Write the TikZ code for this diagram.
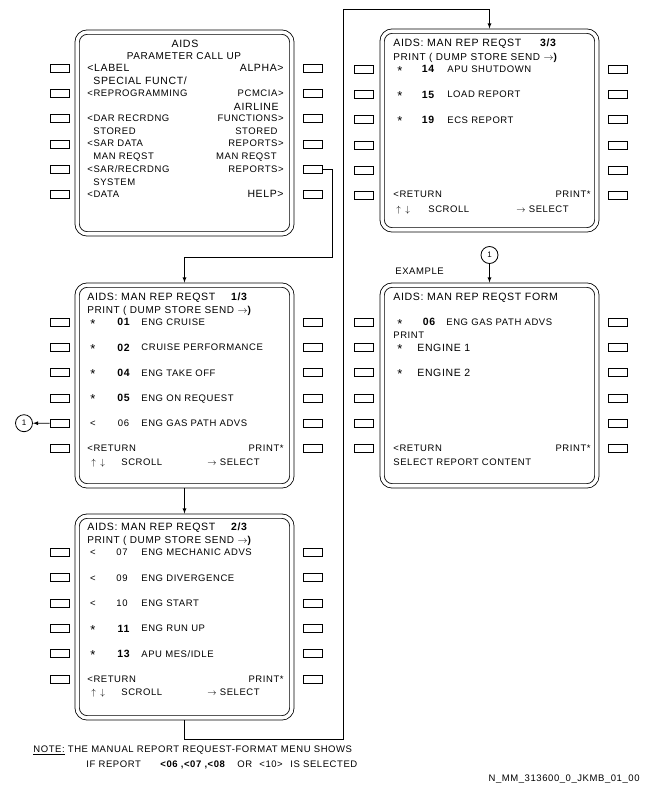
\documentclass[tikz,border=0pt]{standalone}
\usepackage{fontspec}
\setmainfont{Liberation Sans}
\newfontfamily\cdufont[LetterSpace=6]{Liberation Sans}

\tikzset{
  cdu/.style={draw,double,double distance=3.5pt,rounded corners=10pt,minimum width=214.7pt,inner sep=0pt},
  lsk/.style={draw,minimum width=19pt,minimum height=8pt,inner sep=0pt},
  txt/.style={font=\cdufont\fontsize{9.5}{11}\selectfont,inner sep=0pt,text height=6.8pt,text depth=0pt,anchor=west},
  txr/.style={txt,anchor=east},
  big/.style={txt,font=\cdufont\fontsize{10.5}{12}\selectfont,text height=7.5pt},
  bgr/.style={big,anchor=east},
  ttl/.style={txt,font=\cdufont\fontsize{10.6}{13}\selectfont,text height=7.6pt},
  prt/.style={txt,font=\cdufont\fontsize{10}{12}\selectfont,text height=7.2pt},
  num/.style={txt,anchor=center,font=\cdufont\bfseries\fontsize{10.5}{12}\selectfont,text height=7.5pt},
  nrm/.style={txt,anchor=center},
  mrk/.style={txt,anchor=center},
  ast/.style={txt,anchor=center,font=\cdufont\fontsize{13}{14}\selectfont,text height=6pt,yshift=-3pt},
  callout/.style={draw,circle,minimum size=17pt,inner sep=0pt,font=\cdufont\fontsize{8}{9}\selectfont},
  link/.style={->,shorten >=2.2pt}
}

\begin{document}
\begin{tikzpicture}[x=1pt,y=-1pt,>=latex,line width=0.8pt]
  \useasboundingbox (0,0) rectangle (648,792);

  % screens
  \node[cdu,minimum height=201.7pt] (p1) at (184.5,133) {};
  \node[cdu,minimum height=200.7pt] (p2) at (184.5,385.5) {};
  \node[cdu,minimum height=201.7pt] (p3) at (184.5,617) {};
  \node[cdu,minimum height=198.7pt] (p4) at (489.5,130.5) {};
  \node[cdu,minimum height=200.7pt] (p5) at (489.5,385.5) {};

  % line select keys
  \foreach \p/\xl/\xr/\yt in {p1/59.5/312.5/68,p2/59.5/312.5/322,p3/59.5/312.5/552.5,p4/364/617.5/69,p5/364/617.5/322}
    \foreach \i in {1,...,6}{
      \node[lsk] (\p l\i) at (\xl,{\yt+25.3*(\i-1)}) {};
      \node[lsk] (\p r\i) at (\xr,{\yt+25.3*(\i-1)}) {};
    }

  % parameter call up
  \node[ttl,anchor=center] (p1h) at (185,44) {AIDS};
  \node[prt,anchor=center] (p1s) at (184,56) {PARAMETER CALL UP};
  \node[big] (p1a) at (87,68) {<LABEL};
  \node[bgr] (p1b) at (284,68) {ALPHA>};
  \node[big] (p1c) at (93,81) {SPECIAL FUNCT/};
  \node[txt] (p1d) at (87,93) {<REPROGRAMMING};
  \node[txr] (p1e) at (284,93) {PCMCIA>};
  \node[bgr] (p1f) at (279,107) {AIRLINE};
  \node[txt] (p1g) at (87,118) {<DAR RECRDNG};
  \node[txr] (p1h2) at (284,118) {FUNCTIONS>};
  \node[txt] (p1i) at (93,131) {STORED};
  \node[txr] (p1j) at (278,131) {STORED};
  \node[txt] (p1k) at (87,143) {<SAR DATA};
  \node[txr] (p1l) at (284,143) {REPORTS>};
  \node[txt] (p1m) at (93,156) {MAN REQST};
  \node[txr] (p1n) at (277,156) {MAN REQST};
  \node[txt] (p1o) at (87,169) {<SAR/RECRDNG};
  \node[txr] (p1p) at (284,169) {REPORTS>};
  \node[txt] (p1q) at (93,182) {SYSTEM};
  \node[txt] (p1r) at (87,194) {<DATA};
  \node[bgr] (p1s2) at (284,194) {HELP>};

  % page 1/3
  \node[ttl] (p2h) at (87,297) {AIDS: MAN REP REQST};
  \node[num] (p2pg) at (239,297) {1/3};
  \node[prt] (p2pr) at (87,310) {PRINT ( DUMP STORE SEND $\rightarrow$\textbf{)}};
  \node[ast] (p2m1) at (93,322) {*};
  \node[num] (p2n1) at (123.5,322) {01};
  \node[txt] (p2t1) at (141,322) {ENG CRUISE};
  \node[ast] (p2m2) at (93,347.3) {*};
  \node[num] (p2n2) at (123.5,347.3) {02};
  \node[txt] (p2t2) at (141,347.3) {CRUISE PERFORMANCE};
  \node[ast] (p2m3) at (93,372.6) {*};
  \node[num] (p2n3) at (123.5,372.6) {04};
  \node[txt] (p2t3) at (141,372.6) {ENG TAKE OFF};
  \node[ast] (p2m4) at (93,397.9) {*};
  \node[num] (p2n4) at (123.5,397.9) {05};
  \node[txt] (p2t4) at (141,397.9) {ENG ON REQUEST};
  \node[mrk] (p2m5) at (93,423.2) {<};
  \node[nrm] (p2n5) at (123.5,423.2) {06};
  \node[txt] (p2t5) at (141,423.2) {ENG GAS PATH ADVS};
  \node[txt] (p2rt) at (87,448.5) {<RETURN};
  \node[txr] (p2pt) at (284,448.5) {PRINT*};
  \node[txt] (p2up) at (91,462) {$\uparrow$};
  \node[txt] (p2dn) at (100,462) {$\downarrow$};
  \node[txt] (p2sc) at (121,462) {SCROLL};
  \node[txt] (p2se) at (207,462) {$\rightarrow$ SELECT};

  % page 2/3
  \node[ttl] (p3h) at (87,527) {AIDS: MAN REP REQST};
  \node[num] (p3pg) at (239,527) {2/3};
  \node[prt] (p3pr) at (87,540) {PRINT ( DUMP STORE SEND $\rightarrow$\textbf{)}};
  \node[mrk] (p3m1) at (93,552.5) {<};
  \node[nrm] (p3n1) at (122,552.5) {07};
  \node[txt] (p3t1) at (141,552.5) {ENG MECHANIC ADVS};
  \node[mrk] (p3m2) at (93,577.8) {<};
  \node[nrm] (p3n2) at (122,577.8) {09};
  \node[txt] (p3t2) at (141,577.8) {ENG DIVERGENCE};
  \node[mrk] (p3m3) at (93,603.1) {<};
  \node[nrm] (p3n3) at (122,603.1) {10};
  \node[txt] (p3t3) at (141,603.1) {ENG START};
  \node[ast] (p3m4) at (93,628.4) {*};
  \node[num] (p3n4) at (123.5,628.4) {11};
  \node[txt] (p3t4) at (141,628.4) {ENG RUN UP};
  \node[ast] (p3m5) at (93,653.7) {*};
  \node[num] (p3n5) at (123.5,653.7) {13};
  \node[txt] (p3t5) at (141,653.7) {APU MES/IDLE};
  \node[txt] (p3rt) at (87,679) {<RETURN};
  \node[txr] (p3pt) at (284,679) {PRINT*};
  \node[txt] (p3up) at (91,692) {$\uparrow$};
  \node[txt] (p3dn) at (100,692) {$\downarrow$};
  \node[txt] (p3sc) at (121,692) {SCROLL};
  \node[txt] (p3se) at (207,692) {$\rightarrow$ SELECT};

  % page 3/3
  \node[ttl] (p4h) at (393,43) {AIDS: MAN REP REQST};
  \node[num] (p4pg) at (548,43) {3/3};
  \node[prt] (p4pr) at (393,57) {PRINT ( DUMP STORE SEND $\rightarrow$\textbf{)}};
  \node[ast] (p4m1) at (400,69) {*};
  \node[num] (p4n1) at (428,69) {14};
  \node[txt] (p4t1) at (447,69) {APU SHUTDOWN};
  \node[ast] (p4m2) at (400,94.3) {*};
  \node[num] (p4n2) at (428,94.3) {15};
  \node[txt] (p4t2) at (447,94.3) {LOAD REPORT};
  \node[ast] (p4m3) at (400,119.6) {*};
  \node[num] (p4n3) at (428,119.6) {19};
  \node[txt] (p4t3) at (447,119.6) {ECS REPORT};
  \node[txt] (p4rt) at (393,194) {<RETURN};
  \node[txr] (p4pt) at (591,194) {PRINT*};
  \node[txt] (p4up) at (396,209) {$\uparrow$};
  \node[txt] (p4dn) at (405,209) {$\downarrow$};
  \node[txt] (p4sc) at (428,209) {SCROLL};
  \node[txt] (p4se) at (516,209) {$\rightarrow$ SELECT};

  % report form
  \node[txt] (p5x) at (395,271) {EXAMPLE};
  \node[ttl] (p5h) at (393,297) {AIDS: MAN REP REQST FORM};
  \node[ast] (p5m1) at (400,322) {*};
  \node[num] (p5n1) at (429,322) {06};
  \node[txt] (p5t1) at (446,322) {ENG GAS PATH ADVS};
  \node[txt] (p5pr) at (393,335) {PRINT};
  \node[ast] (p5m2) at (400,347.3) {*};
  \node[big] (p5t2) at (417,347.3) {ENGINE 1};
  \node[ast] (p5m3) at (400,372.6) {*};
  \node[big] (p5t3) at (417,372.6) {ENGINE 2};
  \node[txt] (p5rt) at (393,448.5) {<RETURN};
  \node[txr] (p5pt) at (591,448.5) {PRINT*};
  \node[txt] (p5se) at (393,462) {SELECT REPORT CONTENT};

  % callouts
  \node[callout] (o1) at (24,423.2) {1};
  \node[callout] (o2) at (489.5,255) {1};

  % flow
  \coordinate (j1) at (332,257);
  \coordinate (j2) at (184.5,739);
  \coordinate (j3) at (343,739);
  \coordinate (j4) at (343,9);
  \draw[link] (p1r5.east) -| (j1) -| (p2.north);
  \draw[link,shorten <=2.2pt] (p2.south) -- (p3.north);
  \draw[link,shorten <=2.2pt] (p3.south) -- (j2) -- (j3) -- (j4) -| (p4.north);
  \draw[link] (o2) -- (p5.north);
  \draw[->] (p2l5) -- (o1);

  % note
  \node[txt] (n1) at (33,749) {\underline{NOTE:} THE MANUAL REPORT REQUEST-FORMAT MENU SHOWS};
  \node[txt] (n2a) at (86,764) {IF REPORT};
  \node[txt,font=\cdufont\bfseries\fontsize{9.5}{11}\selectfont] (n2b) at (160,764) {<06 ,<07 ,<08};
  \node[txt] (n2c) at (237,764) {OR};
  \node[txt] (n2d) at (259,764) {<10>};
  \node[txt] (n2e) at (290,764) {IS SELECTED};
  \node[txr] (n3) at (640,778) {N\_MM\_313600\_0\_JKMB\_01\_00};
\end{tikzpicture}
\end{document}
